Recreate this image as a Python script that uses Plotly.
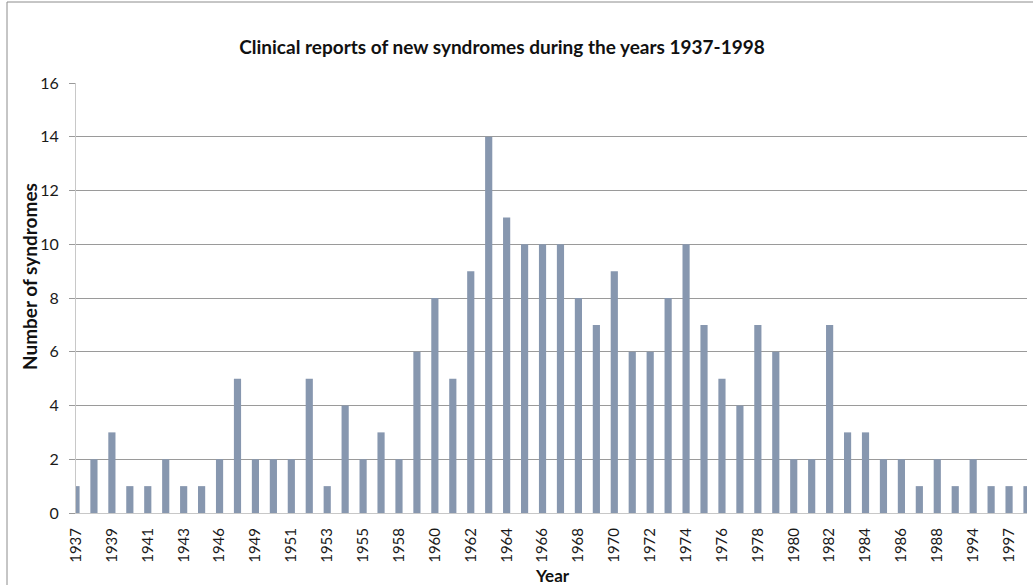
import plotly.graph_objects as go

years = ["1937", "1938", "1939", "1940", "1941", "1942", "1943", "1944", "1946", "1947",
         "1949", "1950", "1951", "1952", "1953", "1954", "1955", "1956", "1958", "1959",
         "1960", "1961", "1962", "1963", "1964", "1965", "1966", "1967", "1968", "1969",
         "1970", "1971", "1972", "1973", "1974", "1975", "1976", "1977", "1978", "1979",
         "1980", "1981", "1982", "1983", "1984", "1985", "1986", "1987", "1988", "1990",
         "1994", "1995", "1997", "1998"]
counts = [1, 2, 3, 1, 1, 2, 1, 1, 2, 5,
          2, 2, 2, 5, 1, 4, 2, 3, 2, 6,
          8, 5, 9, 14, 11, 10, 10, 10, 8, 7,
          9, 6, 6, 8, 10, 7, 5, 4, 7, 6,
          2, 2, 7, 3, 3, 2, 2, 1, 2, 1,
          2, 1, 1, 1]
tick_labels = years[::2]
y_ticks = list(range(0, 17, 2))

FONT = "Lato, 'Open Sans', sans-serif"

fig = go.Figure(go.Bar(x=years, y=counts, marker=dict(color="#8797AF", line=dict(width=0))))

L, R, T, B = 76, 6, 83, 72
W, H = 1033, 585
pw, ph = W - L - R, H - T - B

fig.update_layout(
    width=W, height=H,
    margin=dict(l=L, r=R, t=T, b=B),
    paper_bgcolor="white", plot_bgcolor="white",
    bargap=0.6,
    showlegend=False,
    font=dict(family=FONT, color="#1a1a1a"),
    title=dict(text="<b>Clinical reports of new syndromes during the years 1937-1998</b>",
               x=502 / W, xanchor="center", y=1 - 47 / H, yanchor="middle",
               font=dict(size=19, family=FONT, color="#111111")),
    xaxis=dict(type="category", range=[0, 53], tickmode="array", tickvals=tick_labels,
               ticktext=tick_labels, tickangle=-90, tickfont=dict(size=15, color="#1a1a1a"),
               ticklabelstandoff=8,
               showgrid=False, showline=True, linecolor="#C8C8C8", linewidth=1,
               ticks="", zeroline=False),
    yaxis=dict(range=[0, 16], tickvals=y_ticks, tickfont=dict(size=16, color="#1a1a1a"),
               ticklabelstandoff=7,
               showgrid=True, gridcolor="#9A9A9A", gridwidth=1,
               showline=True, linecolor="#C8C8C8", linewidth=1,
               ticks="outside", ticklen=6, tickcolor="#9A9A9A", zeroline=False),
    annotations=[
        dict(text="<b>Year</b>", xref="paper", yref="paper", x=(552 - L) / pw,
             y=(H - B - 575) / ph, xanchor="center", yanchor="middle", showarrow=False,
             font=dict(size=17, family=FONT, color="#111111")),
        dict(text="<b>Number of syndromes</b>", xref="paper", yref="paper",
             x=(29 - L) / pw, y=(H - B - 277) / ph, xanchor="center", yanchor="middle",
             textangle=-90, showarrow=False,
             font=dict(size=19, family=FONT, color="#111111")),
    ],
    shapes=[dict(type="rect", xref="paper", yref="paper",
                 x0=(7 - L) / pw, x1=(1045 - L) / pw,
                 y0=(H - B - 600) / ph, y1=(H - B - 2) / ph,
                 line=dict(color="#8C8C8C", width=1), fillcolor="rgba(0,0,0,0)", layer="below")],
)

fig.write_html("out.html", config={"displayModeBar": False},
               post_script="document.body.style.margin='0';")
